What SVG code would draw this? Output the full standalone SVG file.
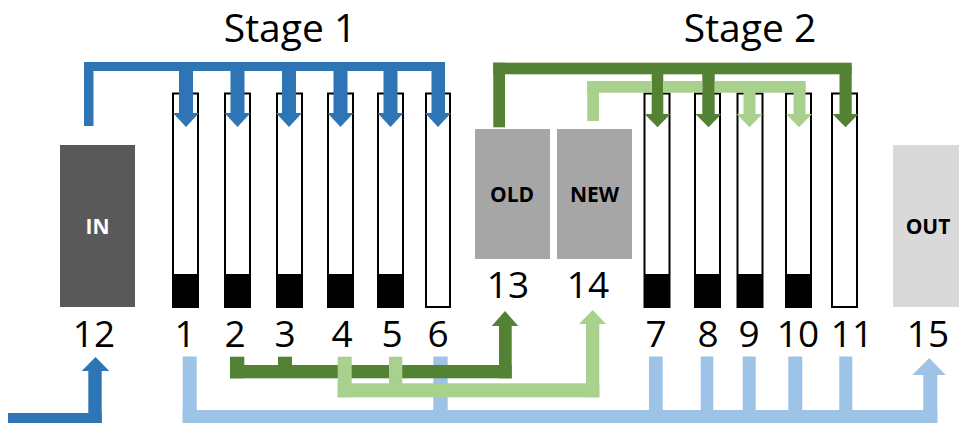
<svg xmlns="http://www.w3.org/2000/svg" width="959" height="423" viewBox="0 0 959 423">
<style>
.num{font-family:"Open Sans","Liberation Sans",sans-serif;font-size:37px;fill:#000;text-anchor:middle}
.stage{font-family:"Open Sans","Liberation Sans",sans-serif;font-size:39px;fill:#000;text-anchor:middle}
.box{font-family:"Open Sans","Liberation Sans",sans-serif;font-size:21px;font-weight:bold;text-anchor:middle}
.tube{fill:#fff;stroke:#000;stroke-width:2}
.fill{fill:#000}
.blue{fill:#2e75b6}
.lblue{fill:#9dc3e6}
.dgreen{fill:#548235}
.lgreen{fill:#a9d18e}
</style>
<rect width="959" height="423" fill="#fff"/>
<text class="stage" x="290" y="42">Stage 1</text>
<text class="stage" x="750" y="42">Stage 2</text>

<g id="node-12">
<rect x="60" y="145" width="75" height="162" fill="#595959"/>
<text class="box" x="97.5" y="234" fill="#fff">IN</text>
<text class="num" x="94" y="347">12</text>
</g>
<g id="node-1"><rect class="tube" x="173" y="93.5" width="25" height="213.5"/><rect class="fill" x="173" y="274" width="25" height="33"/><text class="num" x="185" y="347">1</text></g>
<g id="node-2"><rect class="tube" x="225" y="93.5" width="25" height="213.5"/><rect class="fill" x="225" y="274" width="25" height="33"/><text class="num" x="235" y="347">2</text></g>
<g id="node-3"><rect class="tube" x="277" y="93.5" width="25" height="213.5"/><rect class="fill" x="277" y="274" width="25" height="33"/><text class="num" x="285" y="347">3</text></g>
<g id="node-4"><rect class="tube" x="328" y="93.5" width="25" height="213.5"/><rect class="fill" x="328" y="274" width="25" height="33"/><text class="num" x="342" y="347">4</text></g>
<g id="node-5"><rect class="tube" x="378" y="93.5" width="25" height="213.5"/><rect class="fill" x="378" y="274" width="25" height="33"/><text class="num" x="392" y="347">5</text></g>
<g id="node-6"><rect class="tube" x="426" y="93.5" width="24" height="213.5"/><text class="num" x="438" y="347">6</text></g>
<g id="node-13">
<rect x="475" y="129" width="75" height="130" fill="#a6a6a6"/>
<text class="box" x="512" y="202" fill="#000">OLD</text>
<text class="num" x="508" y="298">13</text>
</g>
<g id="node-14">
<rect x="557" y="129" width="75" height="130" fill="#a6a6a6"/>
<text class="box" x="594.5" y="202" fill="#000">NEW</text>
<text class="num" x="588" y="298">14</text>
</g>
<g id="node-7"><rect class="tube" x="644.5" y="93.5" width="25" height="213.5"/><rect class="fill" x="644.5" y="274" width="25" height="33"/><text class="num" x="656" y="347">7</text></g>
<g id="node-8"><rect class="tube" x="695" y="93.5" width="25" height="213.5"/><rect class="fill" x="695" y="274" width="25" height="33"/><text class="num" x="708" y="347">8</text></g>
<g id="node-9"><rect class="tube" x="737.5" y="93.5" width="25" height="213.5"/><rect class="fill" x="737.5" y="274" width="25" height="33"/><text class="num" x="749" y="347">9</text></g>
<g id="node-10"><rect class="tube" x="786" y="93.5" width="25" height="213.5"/><rect class="fill" x="786" y="274" width="25" height="33"/><text class="num" x="798" y="347">10</text></g>
<g id="node-11"><rect class="tube" x="832" y="93.5" width="25" height="213.5"/><text class="num" x="852" y="347">11</text></g>
<g id="node-15">
<rect x="893" y="145" width="66" height="162" fill="#d9d9d9"/>
<text class="box" x="928" y="234" fill="#000">OUT</text>
<text class="num" x="928" y="347">15</text>
</g>

<g id="connectors">
<g class="blue">
<rect x="84" y="62" width="9.5" height="64"/>
<rect x="84" y="62" width="361" height="9"/>
<rect x="179" y="66" width="14" height="47"/><polygon points="173,113 199,113 186,127"/>
<rect x="230.5" y="66" width="14" height="47"/><polygon points="224.5,113 250.5,113 237.5,127"/>
<rect x="282" y="66" width="14" height="47"/><polygon points="276,113 302,113 289,127"/>
<rect x="333.5" y="66" width="14" height="47"/><polygon points="327.5,113 353.5,113 340.5,127"/>
<rect x="383.5" y="66" width="14" height="47"/><polygon points="377.5,113 403.5,113 390.5,127"/>
<rect x="431.5" y="66" width="13.5" height="47"/><polygon points="425,113 451,113 438,127"/>
<rect x="8" y="413" width="93.7" height="10"/>
<rect x="88.3" y="370" width="13.4" height="53"/>
<polygon points="81.7,371 109.3,371 95.5,357"/>
</g>
<g class="dgreen">
<rect x="493.3" y="62.7" width="11.7" height="64.6"/>
<rect x="493.3" y="62.7" width="358.4" height="11.6"/>
<rect x="651.7" y="66" width="11.6" height="48"/><polygon points="644.5,114 670.5,114 657.5,127.3"/>
<rect x="702.3" y="66" width="12.4" height="48"/><polygon points="695.5,114 721.5,114 708.5,127.3"/>
<rect x="839.5" y="66" width="12.2" height="48"/><polygon points="832.5,114 858.5,114 845.5,127.3"/>
</g>
<g class="lgreen">
<rect x="587.3" y="81" width="11.7" height="40"/>
<rect x="587.3" y="81" width="64.4" height="11.7"/>
<rect x="663.3" y="81" width="38.9" height="11.7"/>
<rect x="714.7" y="81" width="91" height="11.7"/>
<rect x="743.5" y="85" width="12" height="29"/><polygon points="736.5,114 762.5,114 749.5,127.3"/>
<rect x="793.5" y="85" width="12" height="29"/><polygon points="786,114 812,114 799,127.3"/>
</g>
<g class="lblue">
<rect x="182.7" y="356.5" width="14" height="66.5"/>
<rect x="182.7" y="410" width="754.6" height="13"/>
<rect x="433.3" y="356.5" width="14.4" height="54"/>
<rect x="649" y="356.5" width="13.7" height="54"/>
<rect x="700.7" y="356.5" width="12.6" height="54"/>
<rect x="742.7" y="356.5" width="13" height="54"/>
<rect x="788.3" y="356.5" width="14" height="54"/>
<rect x="839.3" y="356.5" width="13" height="54"/>
<rect x="923.3" y="374" width="14" height="49"/>
<polygon points="912.3,375 945.7,375 929.3,358"/>
</g>
<g class="dgreen">
<rect x="230" y="356.7" width="14.3" height="21.6"/>
<rect x="278" y="356.7" width="14" height="10"/>
<rect x="230" y="365" width="281.7" height="13.3"/>
<rect x="499" y="325" width="12.7" height="53.3"/>
<polygon points="491.7,326 518.3,326 505,311"/>
</g>
<g class="lgreen">
<rect x="337.7" y="356.7" width="14" height="40.6"/>
<rect x="389" y="356.7" width="13.3" height="28"/>
<rect x="337.7" y="383.3" width="261.6" height="14"/>
<rect x="586" y="323" width="13.3" height="74.3"/>
<polygon points="579,324 606,324 592.7,310"/>
</g>
</g>
</svg>
